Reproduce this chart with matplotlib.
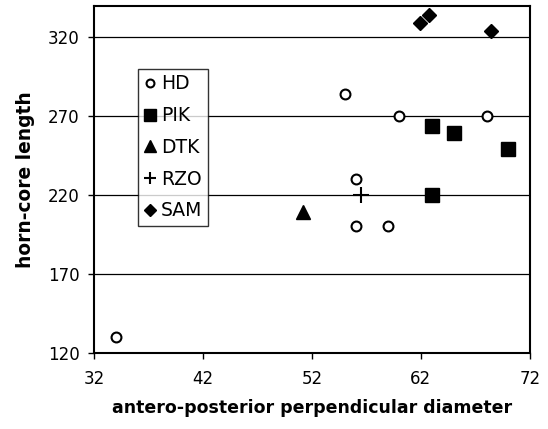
import matplotlib
matplotlib.use("Agg")
import matplotlib.pyplot as plt

plt.rcParams['font.family'] = ['DejaVu Sans']

hd_x = [34.0, 55.0, 60.0, 68.1, 56.0, 56.0, 59.0]
hd_y = [130, 284, 270, 270, 230, 200, 200]
pik_x = [63.0, 65.0, 70.0, 63.0]
pik_y = [264, 259, 249, 220]
dtk_x = [51.2]
dtk_y = [209]
rzo_x = [56.5]
rzo_y = [220]
sam_x = [61.9, 62.7, 68.4]
sam_y = [329, 334, 324]

xticks = [32, 42, 52, 62, 72]
yticks = [120, 170, 220, 270, 320]

fig = plt.figure(figsize=(5.48, 4.29), dpi=100)
ax = fig.add_axes([0.1715, 0.178, 0.7955, 0.8087])
ax.set_xlim(32, 72)
ax.set_ylim(120, 340)

for y in yticks[1:]:
    ax.axhline(y, color='black', lw=0.9, zorder=1)

ax.plot(hd_x, hd_y, 'o', ms=7.1, mfc='white', mec='black', mew=1.5, ls='none', label='HD', zorder=3)
ax.plot(pik_x, pik_y, 's', ms=10.7, color='black', ls='none', label='PIK', zorder=3)
ax.plot(dtk_x, dtk_y, '^', ms=10.7, color='black', ls='none', label='DTK', zorder=3)
ax.plot(rzo_x, rzo_y, '+', ms=11.5, mew=1.5, color='black', ls='none', label='RZO', zorder=3)
ax.plot(sam_x, sam_y, 'D', ms=7.2, color='black', ls='none', label='SAM', zorder=3)

ax.set_xticks(xticks)
ax.set_yticks(yticks)
ax.tick_params(direction='out', length=4.5, width=1, labelsize=12)
ax.tick_params(axis='x', pad=8)
ax.tick_params(axis='y', pad=6)
for s in ax.spines.values():
    s.set_linewidth(1.5)

ax.set_xlabel('antero-posterior perpendicular diameter', fontsize=12.5, fontweight='bold', labelpad=8)
ax.set_ylabel('horn-core length', fontsize=13.4, fontweight='bold', labelpad=9)

leg = ax.legend(loc='upper left', bbox_to_anchor=(0.102, 0.818), fontsize=13.5,
                frameon=True, fancybox=False, edgecolor='black', markerscale=0.8,
                handlelength=0.6, handletextpad=0.3, borderpad=0.3, labelspacing=0.68,
                borderaxespad=0)
leg.get_frame().set_linewidth(1.0)

fig.savefig('out.png', dpi=100)
